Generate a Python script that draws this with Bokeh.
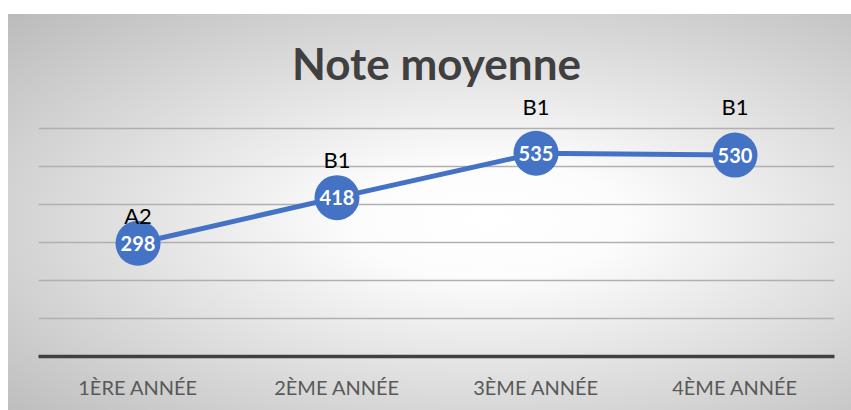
from bokeh.plotting import figure
from bokeh.models import ColumnDataSource, LabelSet, FixedTicker, InlineStyleSheet
from bokeh.core.properties import value
from bokeh.embed import file_html
from bokeh.resources import INLINE

# ---- data ----
categories = ["1ÈRE ANNÉE", "2ÈME ANNÉE", "3ÈME ANNÉE", "4ÈME ANNÉE"]
scores = [298, 418, 535, 530]
levels = ["A2", "B1", "B1", "B1"]
y_ticks = [0, 100, 200, 300, 400, 500, 600]

# ---- style ----
level_dy = [28, 38, 47, 49]   # pixel offsets of level labels above points
BLUE = "#4472C4"
FONT = "Lato"

src = ColumnDataSource(dict(
    cat=categories,
    score=scores,
    score_txt=[str(s) for s in scores],
    level=levels,
    dy=level_dy,
))

p = figure(
    x_range=categories, y_range=(0, 700),
    width=843, height=396,
    output_backend="svg", toolbar_location=None,
    title="Note moyenne",
    min_border_left=30, min_border_right=17,
    min_border_top=76, min_border_bottom=54,
)
p.margin = (14, 0, 0, 8)
p.stylesheets = [InlineStyleSheet(css=":host { background: radial-gradient(ellipse farthest-corner at 57% 52%, #ffffff 0%, #fcfcfc 20%, #bbbbbb 100%); }")]
p.background_fill_alpha = 0
p.border_fill_alpha = 0
p.outline_line_color = None

p.title.align = "center"
p.title.text_font = FONT
p.title.text_font_size = "44px"
p.title.text_font_style = "bold"
p.title.text_color = "#404040"
p.title.standoff = 3

p.yaxis.visible = False
p.yaxis.ticker = FixedTicker(ticks=y_ticks)
p.xgrid.grid_line_color = None
p.ygrid.ticker = FixedTicker(ticks=y_ticks[1:])
p.ygrid.grid_line_color = "#b0b0b0"
p.ygrid.grid_line_width = 1.5

ax = p.xaxis[0]
ax.axis_line_color = "#404040"
ax.axis_line_width = 3.5
ax.major_tick_line_color = None
ax.minor_tick_line_color = None
ax.major_label_text_font = FONT
ax.major_label_text_font_size = "20px"
ax.major_label_text_color = "#595959"
ax.major_label_standoff = 12

p.line("cat", "score", source=src, line_color=BLUE, line_width=5)
p.scatter("cat", "score", source=src, size=45, fill_color=BLUE, line_color=None)

p.add_layout(LabelSet(x="cat", y="score", text="score_txt", source=src,
                      text_align="center", text_baseline="middle",
                      text_color="white", text_font=value(FONT),
                      text_font_style="bold", text_font_size="20px"))
p.add_layout(LabelSet(x="cat", y="score", text="level", source=src,
                      y_offset="dy", text_align="center", text_baseline="middle",
                      text_color="black", text_font=value(FONT),
                      text_font_size="22px"))

open("out.html", "w").write(file_html(p, INLINE))
